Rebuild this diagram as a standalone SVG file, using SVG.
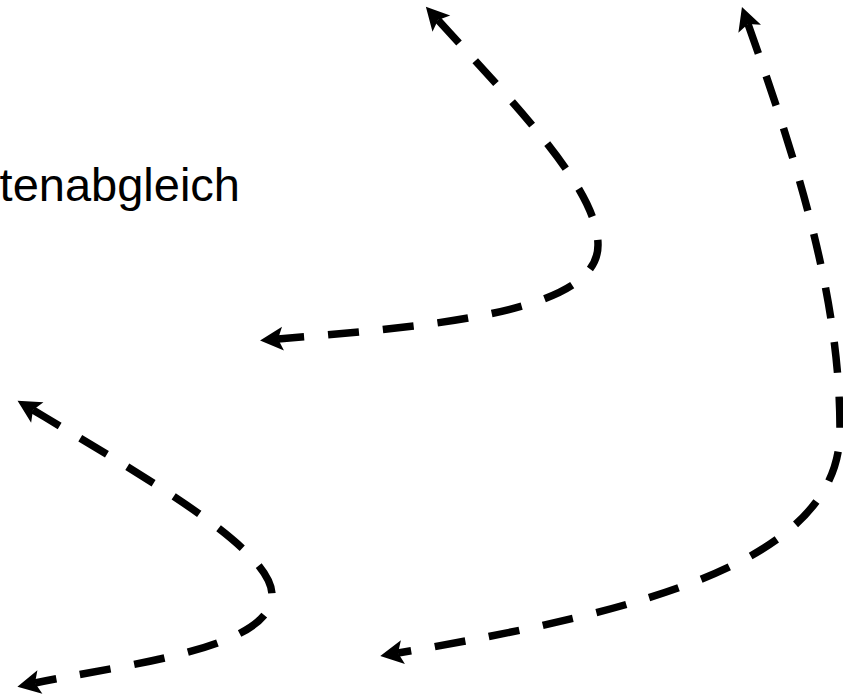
<svg xmlns="http://www.w3.org/2000/svg" width="843" height="696" viewBox="0 0 843 696">
  <style>
    .edge { fill: none; stroke: #000; stroke-width: 7.5; stroke-dasharray: 31 24; }
    .label { font-family: "Liberation Sans", Arial, sans-serif; font-size: 47px; fill: #000; }
  </style>
  <defs>
    <marker id="arrow" markerUnits="userSpaceOnUse" markerWidth="24" markerHeight="26" viewBox="0 0 24 26" refX="5" refY="13" orient="auto-start-reverse" overflow="visible">
      <path d="M0 1 L23 13 L0 25 L5 13 Z" fill="#000"/>
    </marker>
  </defs>
  <rect width="843" height="696" fill="#fff"/>
  <g id="node-datenabgleich">
    <text class="label" x="240" y="201" text-anchor="end">tenabgleich</text>
  </g>
  <g id="connectors">
    <path id="edge-a" class="edge" d="M438 20 C520 110 598 190 598 245 C598 310 450 325 278 339" marker-start="url(#arrow)" marker-end="url(#arrow)"/>
    <path id="edge-b" class="edge" d="M748 24 C800 170 840 300 840 430 C840 560 650 610 398 653" marker-start="url(#arrow)" marker-end="url(#arrow)"/>
    <path id="edge-c" class="edge" d="M33 410 C150 480 272 550 272 595 C272 650 120 665 35 683" marker-start="url(#arrow)" marker-end="url(#arrow)"/>
  </g>
</svg>
